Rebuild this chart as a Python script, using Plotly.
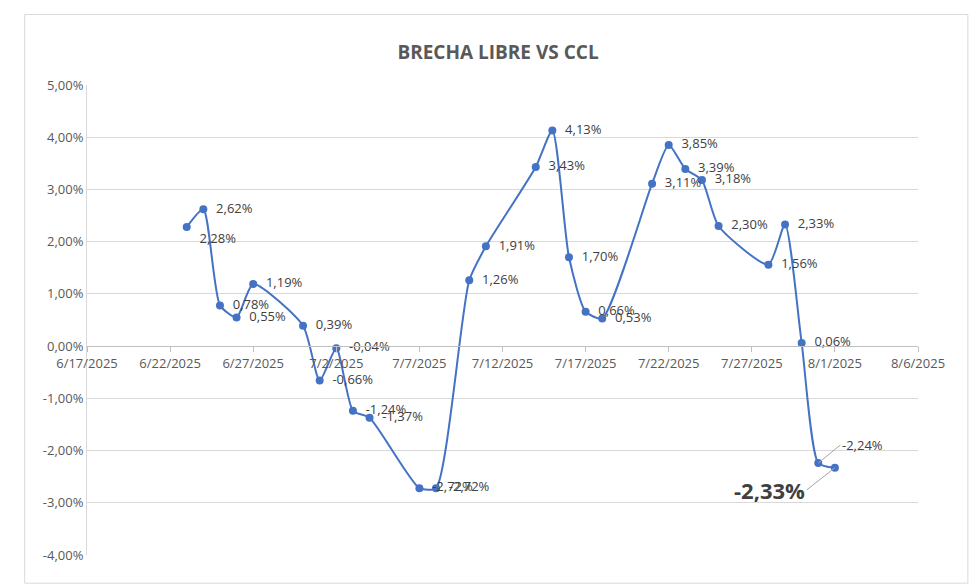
import plotly.graph_objects as go

dates = ["2025-06-23","2025-06-24","2025-06-25","2025-06-26","2025-06-27","2025-06-30",
         "2025-07-01","2025-07-02","2025-07-03","2025-07-04","2025-07-07","2025-07-08",
         "2025-07-10","2025-07-11","2025-07-14","2025-07-15","2025-07-16","2025-07-17",
         "2025-07-18","2025-07-21","2025-07-22","2025-07-23","2025-07-24","2025-07-25",
         "2025-07-28","2025-07-29","2025-07-30","2025-07-31","2025-08-01"]
values = [2.28,2.62,0.78,0.55,1.19,0.39,-0.66,-0.04,-1.24,-1.37,-2.72,-2.72,
          1.26,1.91,3.43,4.13,1.70,0.66,0.53,3.11,3.85,3.39,3.18,2.30,
          1.56,2.33,0.06,-2.24,-2.33]
labels = [f"{v:.2f}%".replace(".", ",") for v in values]
tickvals_x = ["2025-06-17","2025-06-22","2025-06-27","2025-07-02","2025-07-07","2025-07-12",
              "2025-07-17","2025-07-22","2025-07-27","2025-08-01","2025-08-06"]
ticktext_x = ["6/17/2025","6/22/2025","6/27/2025","7/2/2025","7/7/2025","7/12/2025",
              "7/17/2025","7/22/2025","7/27/2025","8/1/2025","8/6/2025"]
yticks = [-4,-3,-2,-1,0,1,2,3,4,5]
ytext = [f"{v:.2f}%".replace(".", ",") for v in yticks]

txt = ["  " + t for t in labels[:-2]] + ["", ""]
pos = ["middle right"] * len(txt)
pos[0] = "bottom right"
fig = go.Figure(go.Scatter(
    x=dates, y=values, mode="lines+markers+text", text=txt,
    textposition=pos, textfont=dict(size=13, color="#404040"),
    line=dict(color="#4472C4", width=2, shape="spline", smoothing=0.6),
    marker=dict(color="#4472C4", size=8), cliponaxis=False))

fig.add_annotation(x=dates[-2], y=values[-2], text=labels[-2], ax=22, ay=-18,
                   showarrow=True, arrowhead=0, arrowcolor="#A6A6A6", xanchor="left",
                   font=dict(size=13, color="#404040"))
fig.add_annotation(x=dates[-1], y=values[-1], text="<b>"+labels[-1]+"</b>", ax=-28, ay=22,
                   showarrow=True, arrowhead=0, arrowcolor="#A6A6A6", xanchor="right",
                   font=dict(size=22, color="#404040"))

fig.update_layout(
    width=980, height=586, paper_bgcolor="white", plot_bgcolor="white",
    margin=dict(l=79, r=70, t=77, b=39), showlegend=False,
    font=dict(family="Open Sans, Calibri, sans-serif", color="#595959"),
    title=dict(text="<b>BRECHA LIBRE VS CCL</b>", x=0.5, y=0.935, xanchor="center",
               font=dict(size=19, color="#595959")),
    xaxis=dict(range=["2025-06-17","2025-08-06"], tickvals=tickvals_x, ticktext=ticktext_x,
               showgrid=False, anchor="free", position=4/9,
               showline=True, linecolor="#BFBFBF", ticks="outside", tickcolor="#BFBFBF",
               tickfont=dict(size=13, color="#595959"), zeroline=False),
    yaxis=dict(range=[-4,5], tickvals=yticks, ticktext=ytext, showgrid=True,
               gridcolor="#D9D9D9", zeroline=False, showline=True, linecolor="#D9D9D9",
               tickfont=dict(size=13, color="#595959")),
    shapes=[dict(type="rect", xref="paper", yref="paper", x0=-0.075, x1=1.06,
                 y0=-0.06, y1=1.15, line=dict(color="#D9D9D9", width=1))])
fig.write_html("out.html")
